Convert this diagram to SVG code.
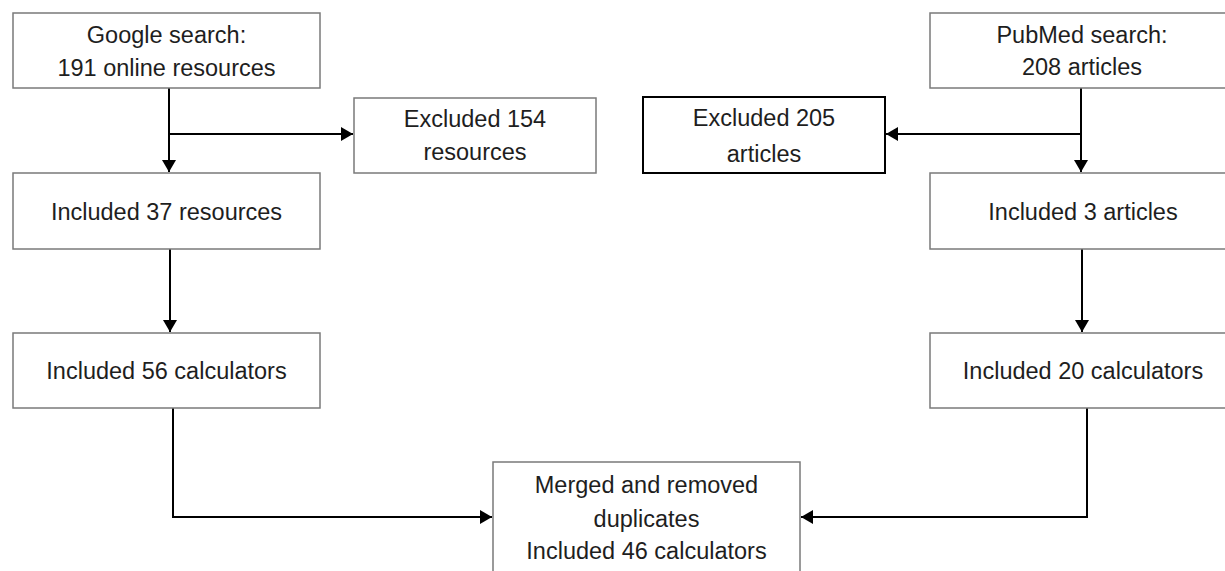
<svg xmlns="http://www.w3.org/2000/svg" width="1225" height="571" viewBox="0 0 1225 571">
  <style>
    .box { fill: #ffffff; stroke: #7a7a7a; stroke-width: 1.5; }
    .box-strong { fill: #ffffff; stroke: #000000; stroke-width: 2; }
    .lbl { font-family: "Liberation Sans", Arial, sans-serif; font-size: 23.5px; fill: #1e1e1e; text-anchor: middle; }
    .conn { fill: none; stroke: #000000; stroke-width: 2; }
  </style>
  <defs>
    <marker id="arrow" markerUnits="userSpaceOnUse" markerWidth="16" markerHeight="16" refX="12" refY="7" orient="auto">
      <path d="M0,0 L12,7 L0,14 Z" fill="#000000"/>
    </marker>
  </defs>
  <rect width="1225" height="571" fill="#ffffff"/>

  <g id="connectors">
    <path class="conn" d="M169,88 V172" marker-end="url(#arrow)"/>
    <path class="conn" d="M169,134 H353" marker-end="url(#arrow)"/>
    <path class="conn" d="M170,249 V332" marker-end="url(#arrow)"/>
    <path class="conn" d="M173,408 V517 H492" marker-end="url(#arrow)"/>
    <path class="conn" d="M1081,88 V172" marker-end="url(#arrow)"/>
    <path class="conn" d="M1081,134 H886" marker-end="url(#arrow)"/>
    <path class="conn" d="M1082,249 V332" marker-end="url(#arrow)"/>
    <path class="conn" d="M1087,408 V517 H801" marker-end="url(#arrow)"/>
  </g>

  <g id="google">
    <rect class="box" x="13" y="13" width="307" height="75"/>
    <text class="lbl" x="166.5" y="43">Google search:</text>
    <text class="lbl" x="166.5" y="76">191 online resources</text>
  </g>
  <g id="excluded154">
    <rect class="box" x="354" y="98" width="242" height="75"/>
    <text class="lbl" x="475" y="127">Excluded 154</text>
    <text class="lbl" x="475" y="160">resources</text>
  </g>
  <g id="included37">
    <rect class="box" x="13" y="173" width="307" height="76"/>
    <text class="lbl" x="166.5" y="220">Included 37 resources</text>
  </g>
  <g id="included56">
    <rect class="box" x="13" y="333" width="307" height="75"/>
    <text class="lbl" x="166.5" y="379">Included 56 calculators</text>
  </g>
  <g id="pubmed">
    <rect class="box" x="930" y="13" width="305" height="75"/>
    <text class="lbl" x="1082" y="43">PubMed search:</text>
    <text class="lbl" x="1082" y="75">208 articles</text>
  </g>
  <g id="excluded205">
    <rect class="box-strong" x="643" y="97" width="242" height="76"/>
    <text class="lbl" x="764" y="126">Excluded 205</text>
    <text class="lbl" x="764" y="162">articles</text>
  </g>
  <g id="included3">
    <rect class="box" x="930" y="173" width="305" height="76"/>
    <text class="lbl" x="1083" y="220">Included 3 articles</text>
  </g>
  <g id="included20">
    <rect class="box" x="930" y="333" width="305" height="75"/>
    <text class="lbl" x="1083" y="379">Included 20 calculators</text>
  </g>
  <g id="merged">
    <rect class="box" x="493" y="462" width="307" height="130"/>
    <text class="lbl" x="646.5" y="493">Merged and removed</text>
    <text class="lbl" x="646.5" y="527">duplicates</text>
    <text class="lbl" x="646.5" y="559">Included 46 calculators</text>
  </g>
</svg>
